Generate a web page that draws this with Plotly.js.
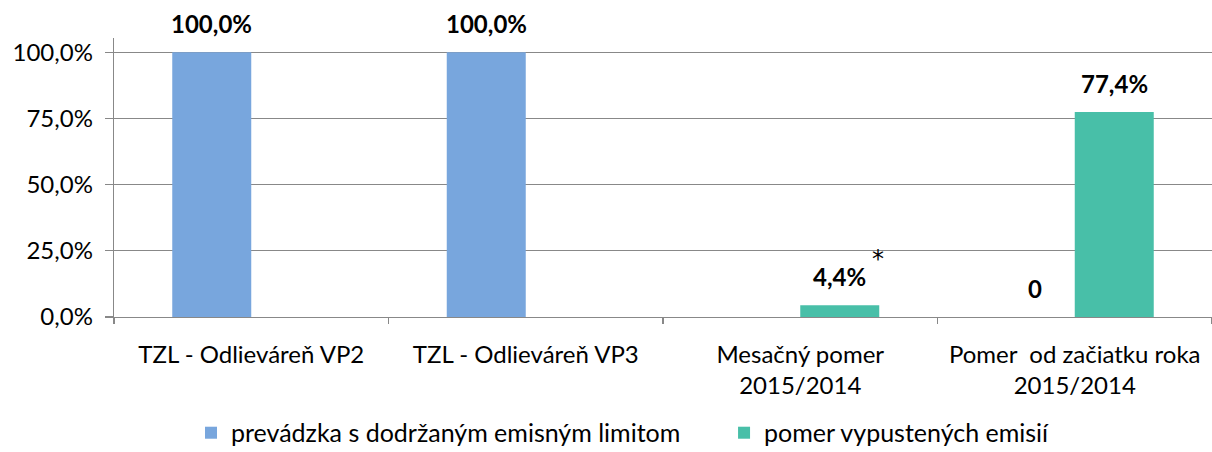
<!DOCTYPE html>
<html>
<head>
<meta charset="utf-8">
<script src="https://cdn.plot.ly/plotly-3.0.1.min.js"></script>
<style>html,body{margin:0;padding:0;background:#fff;}#chart{width:1212px;height:452px;}</style>
</head>
<body>
<div id="chart"></div>
<script>
const categories = [
  "TZL - Odlieváreň VP2",
  "TZL - Odlieváreň VP3",
  "Mesačný pomer<br>2015/2014",
  "Pomer  od začiatku roka<br>2015/2014"
];
const seriesNames = ["prevádzka s dodržaným emisným limitom", "pomer vypustených emisií"];
const blueValues = [100, 100, null, 0];
const greenValues = [null, null, 4.4, 77.4];
const blueLabels = ["100,0%", "100,0%", "", "0"];
const greenLabels = ["", "", "4,4%", "77,4%"];
const noteCategory = 2;
const noteText = "*";

const BLUE = "#78A6DD";
const GREEN = "#48BFA8";
const FONT = "Lato, 'Open Sans', sans-serif";
const FS = 24;

const traces = [
  {type: "bar", name: seriesNames[0], x: categories, y: blueValues, marker: {color: BLUE}, hoverinfo: "none", legend: "legend"},
  {type: "bar", name: seriesNames[1], x: categories, y: greenValues, marker: {color: GREEN}, hoverinfo: "none", legend: "legend2"}
];

const annotations = [];
const half = 39.5;
function addLabels(vals, labels, shift) {
  vals.forEach((v, i) => {
    if (v === null || !labels[i]) return;
    annotations.push({
      x: categories[i], y: v, xref: "x", yref: "y",
      text: "<b>" + labels[i] + "</b>", showarrow: false,
      xshift: shift, yshift: 12, yanchor: "bottom", xanchor: "center",
      font: {family: FONT, size: FS, color: "#000"}
    });
  });
}
addLabels(blueValues, blueLabels, -half);
addLabels(greenValues, greenLabels, half);
annotations.push({
  x: categories[noteCategory], y: greenValues[noteCategory], xref: "x", yref: "y",
  text: noteText, showarrow: false, xshift: 78, yshift: 30, yanchor: "bottom", xanchor: "center",
  font: {family: "'DejaVu Sans', sans-serif", size: 24, color: "#000"}
});

const legendBase = {orientation: "h", xref: "container", yref: "container", xanchor: "left",
  y: 0.093, yanchor: "top",
  font: {family: FONT, size: 25, color: "#000"}, itemclick: false, bgcolor: "rgba(0,0,0,0)"};

const layout = {
  width: 1212, height: 452,
  margin: {l: 114, r: 0, t: 38, b: 135},
  paper_bgcolor: "#fff", plot_bgcolor: "#fff",
  separators: ", ",
  barmode: "group", bargap: 0.4244, bargroupgap: 0,
  font: {family: FONT, size: FS, color: "#000"},
  showlegend: true,
  legend: Object.assign({}, legendBase, {x: 0.1576}),
  legend2: Object.assign({}, legendBase, {x: 0.5974}),
  xaxis: {
    type: "category", tickson: "boundaries", ticks: "outside", ticklen: 6, tickcolor: "#888", tickwidth: 1.3,
    showline: true, linecolor: "#888", linewidth: 1.3, showgrid: false, zeroline: false,
    tickfont: {family: FONT, size: FS, color: "#000"}, ticklabelstandoff: 16
  },
  yaxis: {
    range: [0, 105.4], tick0: 0, dtick: 25, tickformat: ".1f", ticksuffix: "%",
    ticks: "outside", ticklen: 8, tickcolor: "#888", tickwidth: 1.3,
    showline: true, linecolor: "#888", linewidth: 1.3,
    showgrid: true, gridcolor: "#888", gridwidth: 1.3, zeroline: false,
    tickfont: {family: FONT, size: FS, color: "#000"}, ticklabelstandoff: 7
  },
  annotations: annotations
};

Plotly.newPlot("chart", traces, layout, {staticPlot: true, displayModeBar: false});
</script>
</body>
</html>
